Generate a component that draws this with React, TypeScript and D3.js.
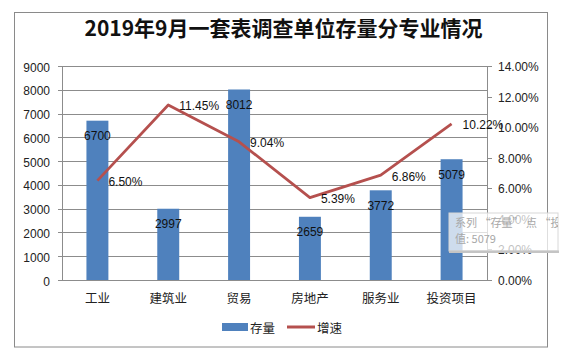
import React from "react";
import * as d3 from "d3";

const categories = ["工业", "建筑业", "贸易", "房地产", "服务业", "投资项目"];
const stockValues = [6700, 2997, 8012, 2659, 3772, 5079];
const growthValues = [6.5, 11.45, 9.04, 5.39, 6.86, 10.22];
const leftTicks = [0, 1000, 2000, 3000, 4000, 5000, 6000, 7000, 8000, 9000];
const rightTicks = [0, 2, 4, 6, 8, 10, 12, 14];
const title = "2019年9月一套表调查单位存量分专业情况";
const seriesNames = ["存量", "增速"];

const W = 581;
const H = 354;
const plot = { left: 62, right: 487, top: 66, bottom: 280 };
const BAR = "#4F81BD";
const LINE = "#B5504E";
const GRID = "#8C8C8C";
const NUM_FONT = "'Liberation Sans', Arial, 'Noto Sans CJK SC', sans-serif";
const CJK_FONT = "'Noto Sans CJK SC', 'Liberation Sans', sans-serif";

export default function App() {
  const x = d3
    .scaleBand<string>()
    .domain(categories)
    .range([plot.left, plot.right])
    .paddingInner(0.69)
    .paddingOuter(0.345);
  const yL = d3.scaleLinear().domain([0, 9000]).range([plot.bottom, plot.top]);
  const yR = d3.scaleLinear().domain([0, 14]).range([plot.bottom, plot.top]);
  const cx = (c: string) => (x(c) as number) + x.bandwidth() / 2;

  const line = d3
    .line<number>()
    .x((_, i) => cx(categories[i]))
    .y((d) => yR(d));

  return (
    <svg
      width={W}
      height={H}
      style={{ position: "fixed", left: 0, top: 0, background: "#fff" }}
    >
      <rect x={0} y={0} width={W} height={H} fill="#fff" />
      <rect x={14.5} y={12.5} width={533} height={334.5} fill="#fff" stroke="#8a8a8a" strokeWidth={1} />
      <text
        x={283.5}
        y={27}
        textAnchor="middle"
        dominantBaseline="central"
        fontFamily={CJK_FONT}
        fontWeight="bold"
        fontSize={21}
        fill="#111"
      >
        {title}
      </text>

      {/* gridlines */}
      {leftTicks.map((t) => (
        <line
          key={"g" + t}
          x1={plot.left - 4}
          x2={plot.right}
          y1={Math.round(yL(t)) + 0.5}
          y2={Math.round(yL(t)) + 0.5}
          stroke={GRID}
          strokeWidth={1}
        />
      ))}
      <line x1={plot.left + 0.5} x2={plot.left + 0.5} y1={plot.top} y2={plot.bottom} stroke={GRID} />
      <line x1={plot.right + 0.5} x2={plot.right + 0.5} y1={plot.top} y2={plot.bottom} stroke={GRID} />
      {rightTicks.map((t) => (
        <line
          key={"rt" + t}
          x1={plot.right}
          x2={plot.right + 5}
          y1={Math.round(yR(t)) + 0.5}
          y2={Math.round(yR(t)) + 0.5}
          stroke={GRID}
        />
      ))}

      {/* left tick labels */}
      {leftTicks.map((t) => (
        <text
          key={"lt" + t}
          x={50}
          y={yL(t) + 1.5}
          textAnchor="end"
          dominantBaseline="central"
          fontFamily={NUM_FONT}
          fontSize={12}
          fill="#222"
        >
          {t}
        </text>
      ))}
      {/* right tick labels */}
      {rightTicks.map((t) => (
        <text
          key={"rl" + t}
          x={498}
          y={yR(t) + 1}
          textAnchor="start"
          dominantBaseline="central"
          fontFamily={NUM_FONT}
          fontSize={12}
          fill="#222"
        >
          {t.toFixed(2) + "%"}
        </text>
      ))}

      {/* bars */}
      {stockValues.map((v, i) => (
        <rect
          key={"b" + i}
          x={x(categories[i])}
          y={yL(v)}
          width={x.bandwidth()}
          height={plot.bottom - yL(v)}
          fill={BAR}
        />
      ))}
      {stockValues.map((v, i) => (
        <text
          key={"bl" + i}
          x={cx(categories[i])}
          y={yL(v) + 15.5}
          textAnchor="middle"
          dominantBaseline="central"
          fontFamily={NUM_FONT}
          fontSize={12}
          fill="#111"
        >
          {v}
        </text>
      ))}

      {/* line */}
      <path d={line(growthValues) || ""} fill="none" stroke={LINE} strokeWidth={2.75} strokeLinejoin="round" />
      {growthValues.map((v, i) => (
        <text
          key={"ll" + i}
          x={cx(categories[i]) + 11}
          y={yR(v) + 1.5}
          textAnchor="start"
          dominantBaseline="central"
          fontFamily={NUM_FONT}
          fontSize={12}
          fill="#111"
        >
          {v.toFixed(2) + "%"}
        </text>
      ))}

      {/* category labels */}
      {categories.map((c) => (
        <text
          key={"c" + c}
          x={cx(c)}
          y={297.5}
          textAnchor="middle"
          dominantBaseline="central"
          fontFamily={CJK_FONT}
          fontSize={12.5}
          fill="#222"
        >
          {c}
        </text>
      ))}

      {/* legend */}
      <rect x={222} y={323} width={26} height={8} fill={BAR} />
      <text x={250} y={327} dominantBaseline="central" fontFamily={CJK_FONT} fontSize={12.5} fill="#222">
        {seriesNames[0]}
      </text>
      <line x1={287} x2={315} y1={327} y2={327} stroke={LINE} strokeWidth={3} />
      <text x={317} y={327} dominantBaseline="central" fontFamily={CJK_FONT} fontSize={12.5} fill="#222">
        {seriesNames[1]}
      </text>

      {/* hover tooltip artifact */}
      <defs>
        <clipPath id="tipclip">
          <rect x={449} y={213} width={109} height={38} />
        </clipPath>
      </defs>
      <rect x={449} y={213} width={109} height={38} fill="#fff" fillOpacity={0.72} stroke="#d8d8d8" />
      <rect x={449} y={250.5} width={110} height={2.5} fill="#c4c4c4" />
      <g clipPath="url(#tipclip)">
        <text x={455} y={222} dominantBaseline="central" fontFamily={CJK_FONT} fontSize={11} fill="#a8a8a8">
          {"系列 \u201c存量\u201d 点 \u201c投资项目\u201d"}
        </text>
        <text x={455} y={238} dominantBaseline="central" fontFamily={CJK_FONT} fontSize={11} fill="#a8a8a8">
          {"值: " + stockValues[5]}
        </text>
      </g>
    </svg>
  );
}
